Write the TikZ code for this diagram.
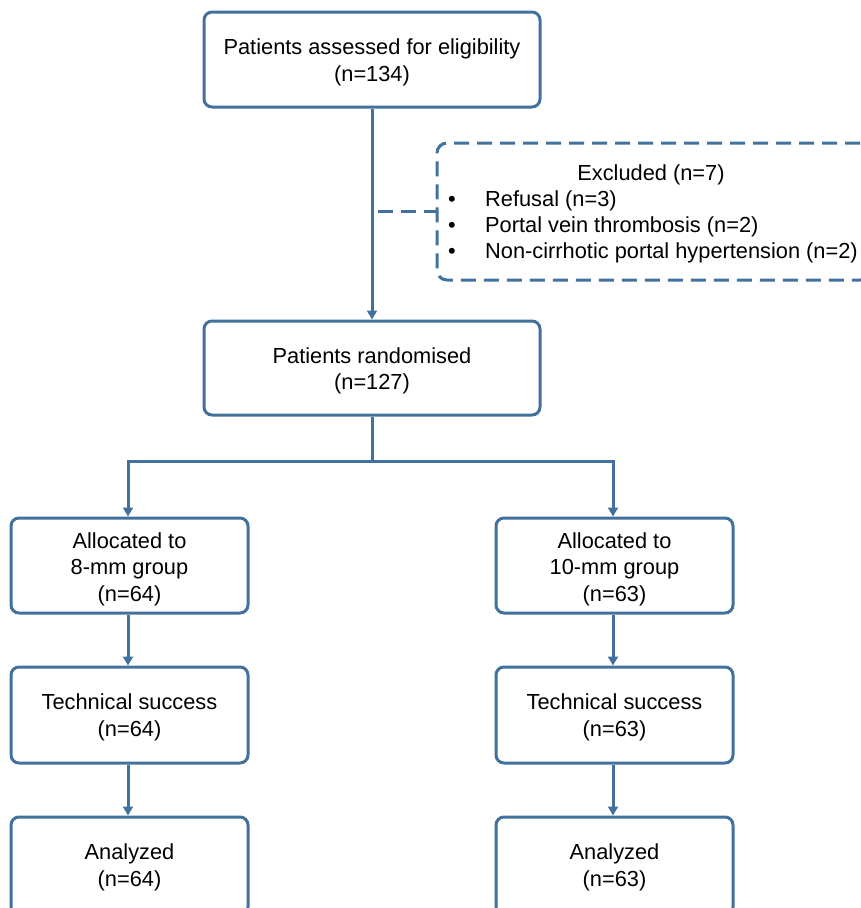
\documentclass[tikz,border=0pt]{standalone}
\usepackage{fontspec}
\setmainfont{Liberation Sans}
\usetikzlibrary{arrows.meta}
\definecolor{edge}{HTML}{41719C}
\tikzset{
  box/.style={draw=edge, line width=3pt, rounded corners=8pt, rectangle, inner sep=0pt, fill=white},
  boxtext/.style={inner sep=0pt, align=center, font=\fontsize{21.8}{26.5}\selectfont},
  exbox/.style={draw=edge, line width=3pt, rounded corners=10pt, rectangle, inner sep=0pt, dash pattern=on 15pt off 8pt},
  txt/.style={inner sep=0pt, font=\fontsize{21.8}{26.5}\selectfont},
  conn/.style={draw=edge, line width=3pt},
  arr/.style={conn, -{Triangle[width=10pt,length=9pt]}},
}
\begin{document}
\begin{tikzpicture}[x=1pt,y=-1pt]
\useasboundingbox (0,0) rectangle (861,908);
\node[box, minimum width=336pt, minimum height=95pt] (top) at (372,59.5) {};
\node[boxtext] (topT) at ([yshift=-2.8pt]top.center) {Patients assessed for eligibility\\(n=134)};
\node[exbox, minimum width=433pt, minimum height=137pt] (excl) at (653.5,211.5) {};
\node[txt] (extitle) at (651,174.5) {Excluded (n=7)};
\node[txt] (b1) at (452,201) {•};
\node[txt] (b2) at (452,227) {•};
\node[txt] (b3) at (452,253) {•};
\node[txt, anchor=west] (e1) at (485,201) {Refusal (n=3)};
\node[txt, anchor=west] (e2) at (485,227) {Portal vein thrombosis (n=2)};
\node[txt, anchor=west] (e3) at (485,253) {Non-cirrhotic portal hypertension (n=2)};
\node[box, minimum width=336pt, minimum height=94pt] (rand) at (372,368) {};
\node[boxtext] (randT) at ([yshift=-2.8pt]rand.center) {Patients randomised\\(n=127)};
\node[box, minimum width=237pt, minimum height=95pt] (al8) at (129.5,565.5) {};
\node[boxtext] (al8T) at ([yshift=-3.5pt]al8.center) {Allocated to\\8-mm group\\(n=64)};
\node[box, minimum width=237pt, minimum height=95pt] (al10) at (614.5,565.5) {};
\node[boxtext] (al10T) at ([yshift=-3.5pt]al10.center) {Allocated to\\10-mm group\\(n=63)};
\node[box, minimum width=237pt, minimum height=96pt] (ts8) at (129.5,715) {};
\node[boxtext] (ts8T) at ([yshift=-2.5pt]ts8.center) {Technical success\\(n=64)};
\node[box, minimum width=237pt, minimum height=96pt] (ts10) at (614.5,715) {};
\node[boxtext] (ts10T) at ([yshift=-2.5pt]ts10.center) {Technical success\\(n=63)};
\node[box, minimum width=237pt, minimum height=98pt] (an8) at (129.5,866) {};
\node[boxtext] (an8T) at ([yshift=-1.5pt]an8.center) {Analyzed\\(n=64)};
\node[box, minimum width=237pt, minimum height=98pt] (an10) at (614.5,866) {};
\node[boxtext] (an10T) at ([yshift=-1.5pt]an10.center) {Analyzed\\(n=63)};
\coordinate (split) at (372,461);
\coordinate (tap) at (372,211);
\draw[arr] (top.south) -- (rand.north);
\draw[conn, dash pattern=on 15pt off 8pt, dash phase=-6pt] (tap) -- (excl.west |- tap);
\draw[conn] (rand.south) -- (split);
\draw[arr] (split) -| ([xshift=-1.5pt]al8.north);
\draw[arr] (split) -| ([xshift=-1.5pt]al10.north);
\draw[arr] ([xshift=-1.5pt]al8.south) -- ([xshift=-1.5pt]ts8.north);
\draw[arr] ([xshift=-1.5pt]al10.south) -- ([xshift=-1.5pt]ts10.north);
\draw[arr] ([xshift=-1.5pt]ts8.south) -- ([xshift=-1.5pt]an8.north);
\draw[arr] ([xshift=-1.5pt]ts10.south) -- ([xshift=-1.5pt]an10.north);
\end{tikzpicture}
\end{document}
